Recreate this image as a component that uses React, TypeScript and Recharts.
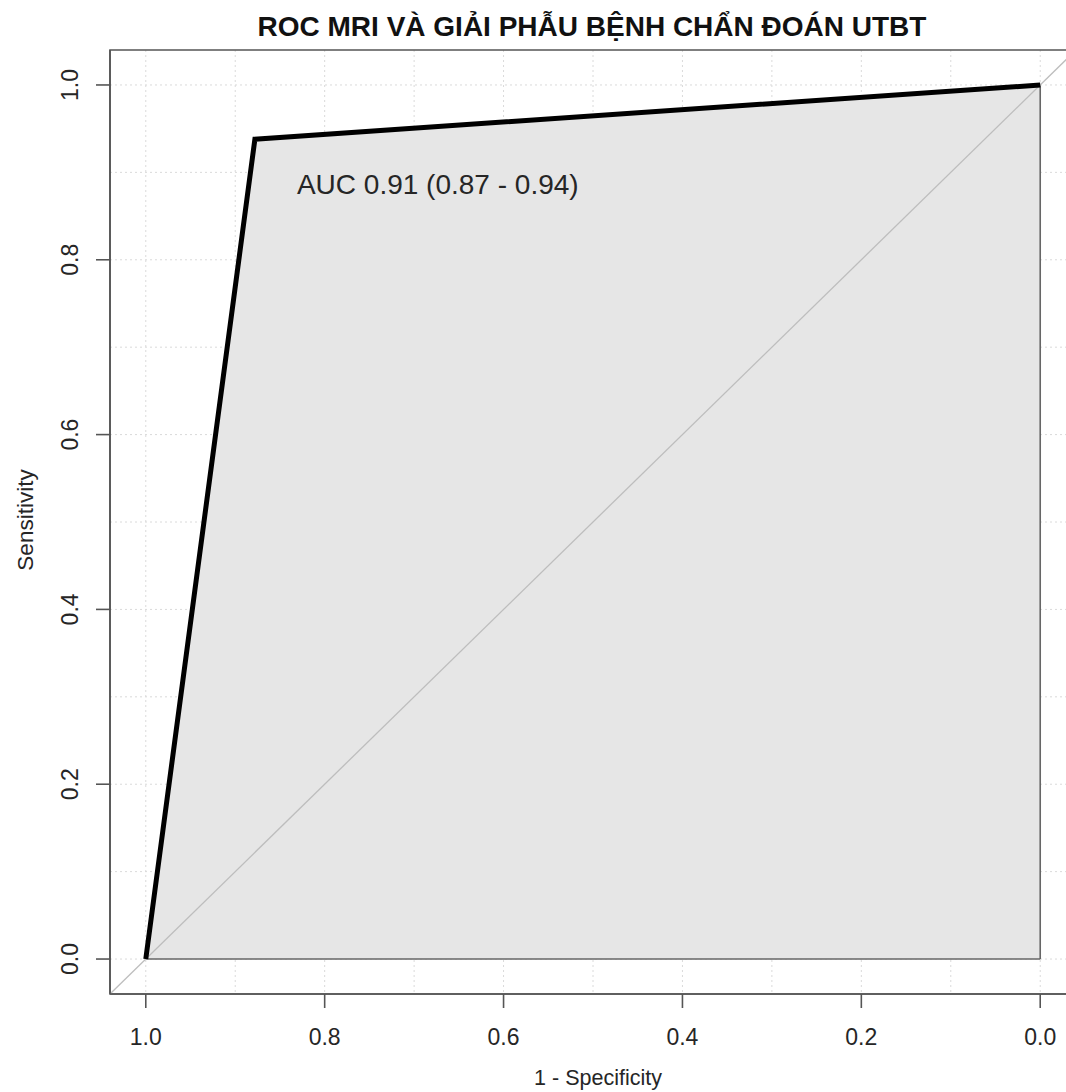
import React from 'react';
import {
  ComposedChart,
  Area,
  Line,
  XAxis,
  YAxis,
  CartesianGrid,
  ReferenceLine,
  ReferenceArea,
  ReferenceDot,
} from 'recharts';

// ROC points (specificity is drawn reversed, 1 -> 0)
const rocSpecificity = [1, 0.878, 0];
const rocSensitivity = [0, 0.938, 1];

const axisTicks = [0, 0.2, 0.4, 0.6, 0.8, 1];
const gridTicks = [0, 0.1, 0.2, 0.3, 0.4, 0.5, 0.6, 0.7, 0.8, 0.9, 1];
const plotDomain = [-0.04, 1.04];

const chartTitle = 'ROC MRI VÀ GIẢI PHẪU BỆNH CHẨN ĐOÁN UTBT';
const xTitle = '1 - Specificity';
const yTitle = 'Sensitivity';
const aucLabel = 'AUC 0.91 (0.87 - 0.94)';
const aucSpec = 0.831;
const aucSens = 0.875;

const rocData = rocSpecificity.map((spec, i) => ({ spec, sens: rocSensitivity[i] }));

const FONT = '"Liberation Sans", Arial, Helvetica, sans-serif';
const AXIS = '#555';
const TEXT = '#262626';

const YTick: React.FC<any> = ({ x, y, payload }) => (
  <text x={x} y={y} transform={`rotate(-90 ${x} ${y})`} textAnchor="middle" fontSize={23} fill={TEXT} fontFamily={FONT}>
    {Number(payload.value).toFixed(1)}
  </text>
);

const XTick: React.FC<any> = ({ x, y, payload }) => (
  <text x={x} y={y} dy="0.71em" textAnchor="middle" fontSize={23} fill={TEXT} fontFamily={FONT}>
    {Number(payload.value).toFixed(1)}
  </text>
);

const AucText: React.FC<any> = ({ cx, cy }) => (
  <text x={cx} y={cy} textAnchor="start" fontSize={28} fill={TEXT} fontFamily={FONT}>
    {aucLabel}
  </text>
);

const App: React.FC = () => {
  return (
    <div
      style={{
        position: 'absolute',
        left: 0,
        top: 0,
        width: 1066,
        height: 1092,
        overflow: 'hidden',
        background: '#fff',
        fontFamily: FONT,
      }}
    >
      <ComposedChart width={1100} height={1092} data={rocData} margin={{ top: 50, right: 24, bottom: 0, left: 0 }}>
        <CartesianGrid
          stroke="#dadada"
          strokeDasharray="2 3"
          horizontalValues={gridTicks}
          verticalValues={gridTicks}
        />
        <XAxis
          dataKey="spec"
          type="number"
          domain={plotDomain}
          reversed
          allowDataOverflow
          ticks={axisTicks}
          interval={0}
          height={98}
          tickSize={14}
          tickMargin={21}
          tick={<XTick />}
          tickLine={{ stroke: AXIS, strokeWidth: 1.6 }}
          axisLine={{ stroke: AXIS, strokeWidth: 1.6 }}
        />
        <YAxis
          type="number"
          domain={plotDomain}
          allowDataOverflow
          ticks={axisTicks}
          interval={0}
          width={110}
          tickSize={14}
          tickMargin={18}
          tick={<YTick />}
          tickLine={{ stroke: AXIS, strokeWidth: 1.6 }}
          axisLine={{ stroke: AXIS, strokeWidth: 1.6 }}
        />
        <Area
          dataKey="sens"
          type="linear"
          baseValue={0}
          fill="#e6e6e6"
          fillOpacity={1}
          stroke="none"
          isAnimationActive={false}
        />
        <ReferenceLine
          segment={[{ x: 1, y: 0 }, { x: 0, y: 0 }]}
          stroke="#666"
          strokeWidth={1.6}
        />
        <ReferenceLine
          segment={[{ x: 0, y: 0 }, { x: 0, y: 1 }]}
          stroke="#666"
          strokeWidth={1.6}
        />
        <ReferenceLine
          segment={[{ x: plotDomain[1], y: plotDomain[0] }, { x: plotDomain[0], y: plotDomain[1] }]}
          stroke="#bdbdbd"
          strokeWidth={1.3}
        />
        <Line
          dataKey="sens"
          type="linear"
          stroke="#000"
          strokeWidth={5}
          strokeLinejoin="miter"
          dot={false}
          activeDot={false}
          isAnimationActive={false}
        />
        <ReferenceArea
          x1={plotDomain[0]}
          x2={plotDomain[1]}
          y1={plotDomain[0]}
          y2={plotDomain[1]}
          fill="none"
          fillOpacity={0}
          stroke={AXIS}
          strokeWidth={1.6}
        />
        <ReferenceDot x={aucSpec} y={aucSens} r={0} shape={<AucText />} />
        <text x={592} y={36} textAnchor="middle" fontSize={28} fontWeight="bold" fill="#111" fontFamily={FONT}>
          {chartTitle}
        </text>
        <text x={598} y={1085} textAnchor="middle" fontSize={21.5} fill={TEXT} fontFamily={FONT}>
          {xTitle}
        </text>
        <text x={33} y={520} transform="rotate(-90 33 520)" textAnchor="middle" fontSize={22.5} fill={TEXT} fontFamily={FONT}>
          {yTitle}
        </text>
      </ComposedChart>
    </div>
  );
};

export default App;
